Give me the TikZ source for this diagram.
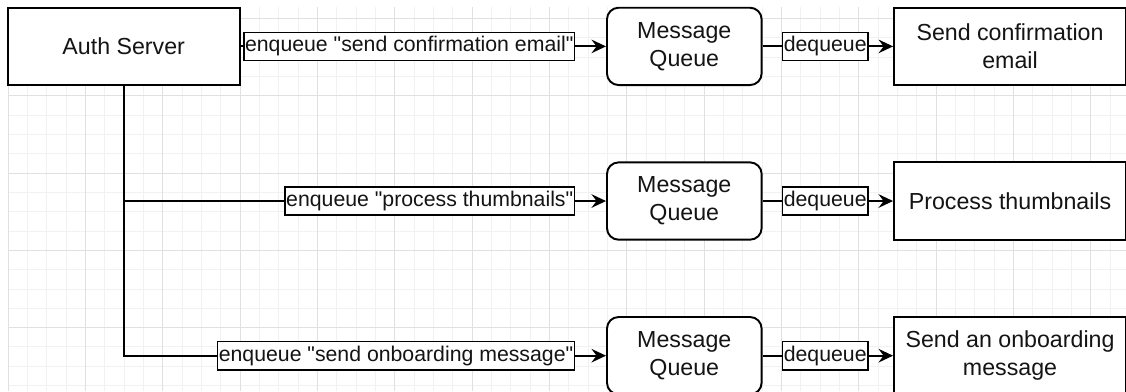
\documentclass[tikz,border=0pt]{standalone}
\usepackage{fontspec}
\setmainfont{Liberation Sans}[Ligatures=TeXOff]
\usetikzlibrary{arrows.meta}
\definecolor{gridfaint}{RGB}{241,241,241}
\definecolor{gridstrong}{RGB}{224,224,224}
\definecolor{inkline}{RGB}{0,0,0}
\definecolor{inktext}{RGB}{20,20,20}
\tikzset{
  server/.style={draw=inkline, fill=white, line width=1pt, rounded corners=0pt,
    minimum width=120pt, minimum height=40pt, align=center, inner sep=0pt, text=inktext},
  queue/.style={server, rounded corners=6pt, minimum width=80pt},
  edgetag/.style={draw=inkline, fill=white, line width=0.8pt, font=\fontsize{11}{13.2}\selectfont,
    text height=8.2pt, text depth=2.4pt, inner xsep=0.6pt, inner ysep=2pt, text=inktext},
  flow/.style={-{Stealth[length=7.5pt, width=7pt, inset=2.6pt]}, line width=1pt, draw=inkline},
  gridminor/.style={draw=gridfaint, line width=0.5pt},
  gridmajor/.style={draw=gridstrong, line width=0.5pt}
}

\begin{document}
\begin{tikzpicture}[x=1pt, y=-1pt, font=\fontsize{12}{14.4}\selectfont]
  \path[use as bounding box, fill=white] (0,0) rectangle (582.5,202.3);
  \begin{scope}[shift={(4.3,9.5)}]
    \draw[gridminor, step=10pt] (-0.3,192.8) grid (578.2,-5.9);
    \draw[gridmajor, step=40pt] (-0.3,192.8) grid (578.2,-5.9);
  \end{scope}

  \node[server] (auth) at (64,24) {Auth Server};
  \node[queue] (confirmq) at (354,24) {Message\\Queue};
  \node[queue] (thumbq) at (354,104) {Message\\Queue};
  \node[queue] (onboardq) at (354,184) {Message\\Queue};
  \node[server] (confirm) at (522.5,24) {Send confirmation\\email};
  \node[server] (thumbs) at (522.5,104) {Process thumbnails};
  \node[server] (onboard) at (522.5,184) {Send an onboarding\\message};

  \draw[flow] (auth) -- node[edgetag, pos=0.916, anchor=east] {enqueue "send confirmation email"} (confirmq);
  \draw[flow] (auth.south) |- node[edgetag, pos=0.968, anchor=east] {enqueue "process thumbnails"} (thumbq.west);
  \draw[flow] (auth.south) |- node[edgetag, pos=0.968, anchor=east] {enqueue "send onboarding message"} (onboardq.west);

  \draw[flow] (confirmq) -- node[edgetag, pos=0.48] {dequeue} (confirm);
  \draw[flow] (thumbq) -- node[edgetag, pos=0.48] {dequeue} (thumbs);
  \draw[flow] (onboardq) -- node[edgetag, pos=0.48] {dequeue} (onboard);
\end{tikzpicture}
\end{document}
